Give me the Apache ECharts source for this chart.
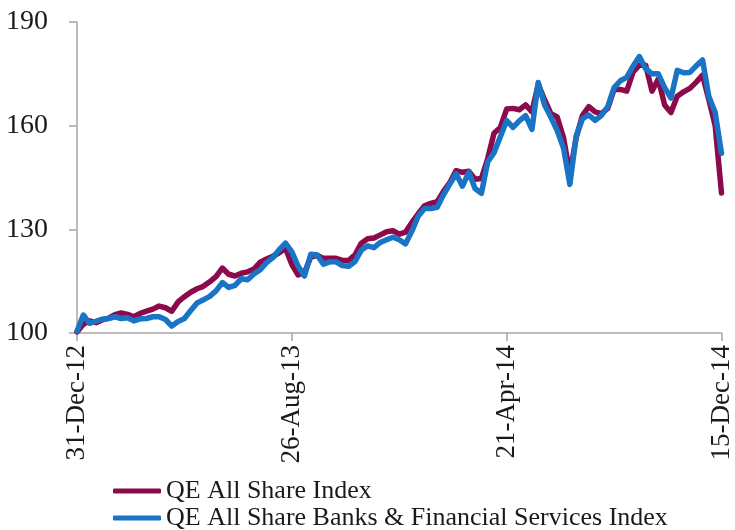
<!DOCTYPE html>
<html>
<head>
<meta charset="utf-8">
<script src="https://cdn.jsdelivr.net/npm/echarts@6.0.0/dist/echarts.min.js"></script>
<style>
  html, body { margin: 0; padding: 0; background: #fff; }
  #chart { width: 735px; height: 530px; }
</style>
</head>
<body>
<div id="chart"></div>
<script>
// weekly dates, 31-Dec-12 .. 15-Dec-14
const dates = [
  "31-Dec-12",
  "7-Jan-13", "14-Jan-13", "21-Jan-13", "28-Jan-13", "4-Feb-13", "11-Feb-13", "18-Feb-13", "25-Feb-13",
  "4-Mar-13", "11-Mar-13", "18-Mar-13", "25-Mar-13", "1-Apr-13", "8-Apr-13", "15-Apr-13", "22-Apr-13", "29-Apr-13",
  "6-May-13", "13-May-13", "20-May-13", "27-May-13", "3-Jun-13", "10-Jun-13", "17-Jun-13", "24-Jun-13",
  "1-Jul-13", "8-Jul-13", "15-Jul-13", "22-Jul-13", "29-Jul-13", "5-Aug-13", "12-Aug-13", "19-Aug-13", "26-Aug-13",
  "2-Sep-13", "9-Sep-13", "16-Sep-13", "23-Sep-13", "30-Sep-13", "7-Oct-13", "14-Oct-13", "21-Oct-13", "28-Oct-13",
  "4-Nov-13", "11-Nov-13", "18-Nov-13", "25-Nov-13", "2-Dec-13", "9-Dec-13", "16-Dec-13", "23-Dec-13", "30-Dec-13",
  "6-Jan-14", "13-Jan-14", "20-Jan-14", "27-Jan-14", "3-Feb-14", "10-Feb-14", "17-Feb-14", "24-Feb-14",
  "3-Mar-14", "10-Mar-14", "17-Mar-14", "24-Mar-14", "31-Mar-14", "7-Apr-14", "14-Apr-14", "21-Apr-14", "28-Apr-14",
  "5-May-14", "12-May-14", "19-May-14", "26-May-14", "2-Jun-14", "9-Jun-14", "16-Jun-14", "23-Jun-14", "30-Jun-14",
  "7-Jul-14", "14-Jul-14", "21-Jul-14", "28-Jul-14", "4-Aug-14", "11-Aug-14", "18-Aug-14", "25-Aug-14",
  "1-Sep-14", "8-Sep-14", "15-Sep-14", "22-Sep-14", "29-Sep-14", "6-Oct-14", "13-Oct-14", "20-Oct-14", "27-Oct-14",
  "3-Nov-14", "10-Nov-14", "17-Nov-14", "24-Nov-14", "1-Dec-14", "8-Dec-14", "15-Dec-14"
];

const allShare = [
  100.3, 102.5, 103.5, 103.0, 103.8, 104.3, 105.3, 105.8, 105.4, 104.7,
  105.7, 106.3, 106.9, 107.8, 107.3, 106.3, 109.0, 110.5, 111.8, 112.8,
  113.5, 114.8, 116.3, 118.8, 117.0, 116.5, 117.3, 117.7, 118.5, 120.5,
  121.4, 122.2, 123.2, 124.5, 119.8, 116.8, 117.5, 122.0, 122.5, 121.6,
  121.6, 121.6, 121.0, 121.0, 122.6, 126.0, 127.3, 127.5, 128.4, 129.3,
  129.6, 128.6, 129.2, 132.0, 134.5, 136.8, 137.5, 138.0, 141.0, 143.5,
  147.0, 146.5, 146.8, 144.5, 144.7, 150.5, 157.8, 159.5, 164.8, 165.0,
  164.6, 166.0, 164.0, 172.0, 167.5, 163.5, 162.5, 156.5, 146.0, 156.5,
  163.0, 165.5, 164.0, 163.5, 165.0, 170.5, 170.5, 170.0, 175.5, 177.5,
  177.5, 170.0, 173.5, 166.0, 163.8, 168.5, 169.8, 170.8, 172.6, 174.6,
  167.5, 160.0, 140.5
];

const banksFin = [
  100.5, 105.2, 102.8, 103.4, 104.0, 104.2, 104.7, 104.2, 104.4, 103.5,
  104.1, 104.2, 104.7, 104.7, 103.9, 102.0, 103.3, 104.2, 106.5, 108.7,
  109.6, 110.6, 112.2, 114.6, 113.2, 113.8, 115.7, 115.4, 117.1, 118.3,
  120.4, 121.8, 124.1, 126.0, 123.5, 119.3, 116.5, 122.8, 122.6, 119.9,
  120.6, 120.6, 119.5, 119.3, 120.7, 124.0, 125.2, 124.7, 126.2, 127.0,
  127.7, 127.0, 125.8, 129.5, 133.8, 136.0, 136.0, 136.4, 140.0, 143.1,
  146.1, 142.5, 146.5, 141.8, 140.4, 149.5, 152.2, 156.8, 161.5, 159.5,
  161.4, 162.9, 158.9, 172.5, 166.0, 162.4, 158.6, 153.5, 143.0, 157.0,
  162.0, 163.1, 161.5, 163.0, 165.5, 171.0, 173.0, 174.0, 177.2, 180.0,
  176.5, 175.0, 175.0, 171.0, 168.0, 176.0, 175.3, 175.4, 177.3, 179.0,
  168.4, 163.8, 152.0
];

const seriesNames = ["QE All Share Index", "QE All Share Banks & Financial Services Index"];
const colors = ["#8c0a4b", "#1a74c6"];

const font = "'Liberation Serif', 'DejaVu Serif', serif";
const chart = echarts.init(document.getElementById("chart"), null, { renderer: "canvas" });

const option = {
  animation: false,
  color: colors,
  grid: { left: 77, right: 9, top: 22, bottom: 197 },
  legend: {
    orient: "vertical",
    left: 108,
    top: 473,
    height: 90,
    itemWidth: 48,
    itemHeight: 5,
    itemGap: 1,
    icon: "roundRect",
    textStyle: { fontFamily: font, fontSize: 26, color: "#1a1a1a" },
    data: seriesNames
  },
  xAxis: {
    type: "category",
    data: dates,
    boundaryGap: false,
    axisLine: { lineStyle: { color: "#a6a6a6", width: 1.5 } },
    axisTick: { interval: 33, length: 8, lineStyle: { color: "#a6a6a6", width: 1.5 } },
    axisLabel: {
      interval: 33,
      rotate: 90,
      margin: 12,
      fontFamily: font,
      fontSize: 27,
      color: "#1a1a1a"
    },
    splitLine: { show: false }
  },
  yAxis: {
    type: "value",
    min: 100,
    max: 190,
    interval: 30,
    axisLine: { show: true, lineStyle: { color: "#a6a6a6", width: 1.5 } },
    axisTick: { show: true, length: 8, lineStyle: { color: "#a6a6a6", width: 1.5 } },
    axisLabel: { margin: 29, fontFamily: font, fontSize: 28, color: "#1a1a1a" },
    splitLine: { show: false }
  },
  series: [
    {
      name: seriesNames[0],
      type: "line",
      data: allShare,
      showSymbol: false,
      symbol: "none",
      lineStyle: { width: 5.5, color: colors[0], join: "round", cap: "round" }
    },
    {
      name: seriesNames[1],
      type: "line",
      data: banksFin,
      showSymbol: false,
      symbol: "none",
      lineStyle: { width: 5.5, color: colors[1], join: "round", cap: "round" }
    }
  ]
};

chart.setOption(option);
</script>
</body>
</html>
